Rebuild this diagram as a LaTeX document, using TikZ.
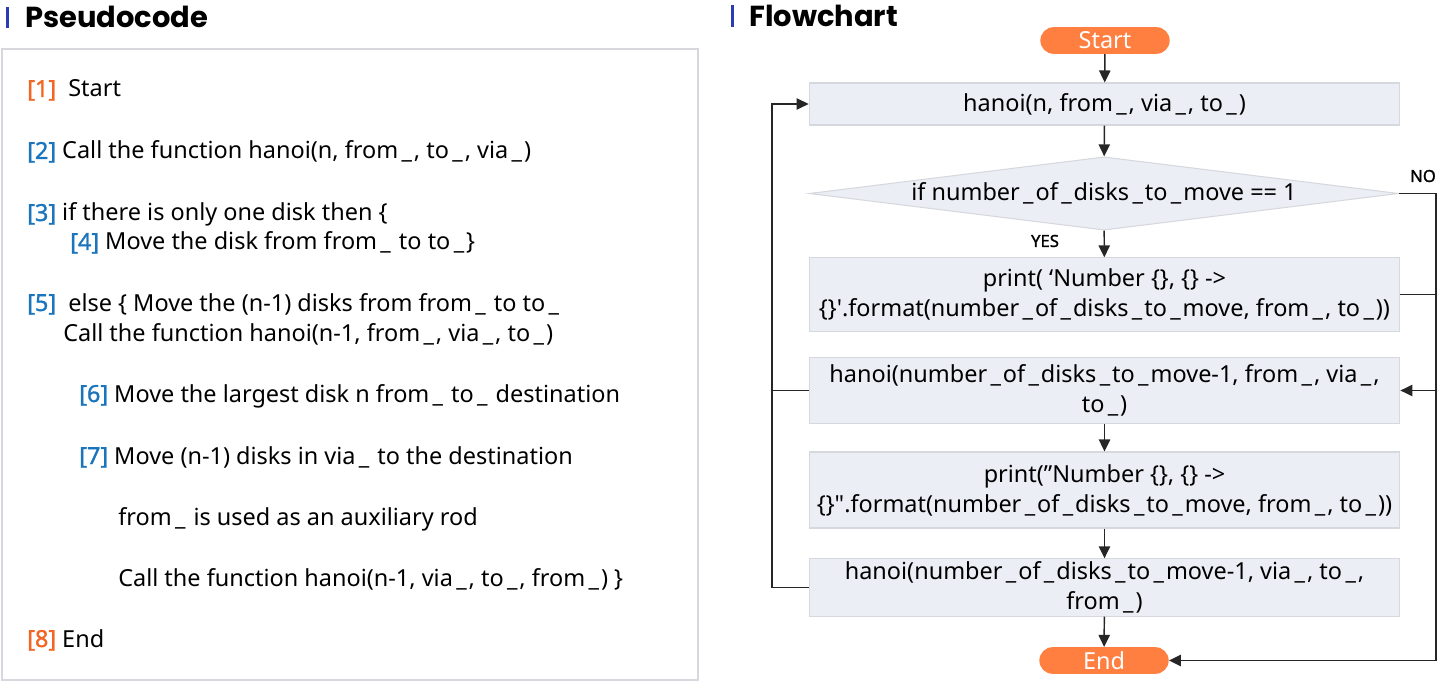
\documentclass[tikz,border=0pt]{standalone}
\usepackage{fontspec}
\setmainfont{Noto Sans}[BoldFont={Noto Sans}, BoldFeatures={FakeBold=1.3}]
\newfontfamily\headfont{Poppins}
\usetikzlibrary{arrows.meta,shapes.geometric}
\definecolor{hdblue}{HTML}{2B3BB5}
\definecolor{pillor}{HTML}{FF7F41}
\definecolor{numor}{HTML}{F26522}
\definecolor{numbl}{HTML}{1B75BC}
\definecolor{boxfill}{HTML}{EBEEF5}
\definecolor{boxline}{HTML}{D6D8DD}
\newcommand{\on}[1]{\textcolor{numor}{\bfseries #1}}
\newcommand{\bn}[1]{\textcolor{numbl}{\bfseries #1}}
\newcommand{\us}{\kern2.5pt\_\kern1.5pt}
\newcommand{\sq}{{\addfontfeatures{Ligatures=TeXOff}\symbol{39}}}
\newcommand{\dq}{{\addfontfeatures{Ligatures=TeXOff}\symbol{34}}}
\begin{document}
\begin{tikzpicture}[x=0.75pt, y=-0.75pt, every node/.style={font=\fontsize{17.6}{22.5}\selectfont}, >={Triangle[length=9pt, width=8.5pt]},
  box/.style={draw=boxline, fill=boxfill, line width=0.8pt, minimum width=443pt, inner sep=0pt, align=center},
  pill/.style={fill=pillor, text=white, rounded corners=10pt, minimum width=97pt, minimum height=20pt, inner sep=0pt},
  dec/.style={diamond, draw=boxline, fill=boxfill, line width=0.8pt, aspect=8.07, minimum width=442pt, minimum height=55pt, inner sep=0pt},
  pl/.style={anchor=base west, inner sep=0pt},
  hd/.style={anchor=base west, inner sep=0pt, font=\headfont\fontsize{21.7}{24}\selectfont\bfseries},
  lnk/.style={line width=1.1pt, black!85}, yn/.style={font=\fontsize{12.5}{14}\selectfont\bfseries}]
	\useasboundingbox (0,0) rectangle (1451,691);
	\fill[hdblue] (6,7) rectangle (9,28); \fill[hdblue] (731,5) rectangle (734,27);
	\node[hd] (tp) at (25,27.5) {Pseudocode}; \node[hd] (tf) at (749,27) {Flowchart};
	\draw[boxline, line width=0.8pt] (2,49) rectangle (698,680);
	\node[pl] (p1) at (27,97) {\on{[1]}\ \ Start};
	\node[pl] (p2) at (27,159) {\bn{[2]} Call the function hanoi(n, from\us, to\us, via\us)};
	\node[pl] (p3) at (27,221) {\bn{[3]} if there is only one disk then \{};
	\node[pl] (p4) at (70,250) {\bn{[4]} Move the disk from from\us\ to to\us\}};
	\node[pl] (p5) at (27,311) {\bn{[5]}\ \ else \{ Move the (n-1) disks from from\us\ to to\us};
	\node[pl] (p5b) at (63,341) {Call the function hanoi(n-1, from\us, via\us, to\us)};
	\node[pl] (p6) at (79,402) {\bn{[6]} Move the largest disk n from\us\ to\us\ destination};
	\node[pl] (p7) at (79,464) {\bn{[7]} Move (n-1) disks in via\us\ to the destination};
	\node[pl] (p7b) at (118,525) {from\us\ is used as an auxiliary rod};
	\node[pl] (p7c) at (118,586) {Call the function hanoi(n-1, via\us, to\us, from\us) \}};
	\node[pl] (p8) at (27,647) {\on{[8]} End};
	\node[pill] (st) at (1105,40.5) {Start};
	\node[box, minimum height=31.5pt] (b1) at (1104.5,104) {hanoi(n, from\us, via\us, to\us)};
	\node[dec] (dc) at (1104,193.5) {if number\us of\us disks\us to\us move == 1};
	\node[box, minimum height=55pt] (b2) at (1104.5,294.5) {print( ‘Number \{\}, \{\} ->\\ \{\}\sq.format(number\us of\us disks\us to\us move, from\us, to\us))};
	\node[box, minimum height=50pt] (b3) at (1104.5,390.5) {hanoi(number\us of\us disks\us to\us move-1, from\us, via\us,\\ to\us)};
	\node[box, minimum height=57pt] (b4) at (1104.5,490) {print(”Number \{\}, \{\} ->\\ \{\}\dq.format(number\us of\us disks\us to\us move, from\us, to\us))};
	\node[box, minimum height=43pt] (b5) at (1104.5,587.5) {hanoi(number\us of\us disks\us to\us move-1, via\us, to\us,\\ from\us)};
	\node[pill] (en) at (1104,660.5) {End};
	\node[yn] (yes) at (1045,241) {YES}; \node[yn] (no) at (1423,176) {NO};
	\coordinate (rx) at (1436,0); \coordinate (lx) at (772,0);
	\draw[lnk, ->] (st) -- (b1); \draw[lnk, ->] (b1) -- (dc); \draw[lnk, ->] (dc) -- (b2);
	\draw[lnk, ->] (b3) -- (b4); \draw[lnk, ->] (b4) -- (b5); \draw[lnk, ->] (b5) -- (en);
	\draw[lnk, ->] (dc.east) -- (rx |- dc.east) |- (b3.east);
	\draw[lnk] (b2.east) -- (rx |- b2.east);
	\draw[lnk, ->] (rx |- b3.east) |- (en.east);
	\draw[lnk, ->] (b3.west) -- (lx |- b3.west) |- (b1.west);
	\draw[lnk] (b5.west) -| (lx |- b3.west);
\end{tikzpicture}
\end{document}
